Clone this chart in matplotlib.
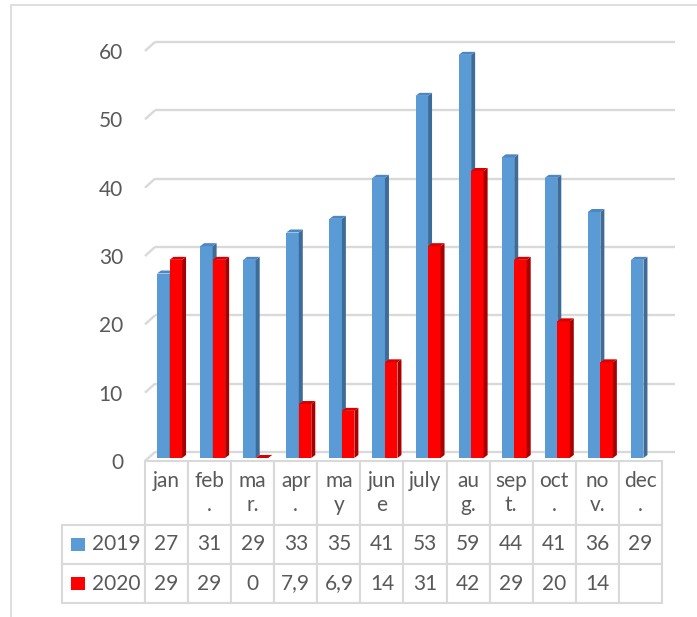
import numpy as np
import matplotlib.pyplot as plt
from matplotlib.patches import Polygon, Rectangle
from matplotlib.table import Table
from matplotlib.transforms import ScaledTranslation

plt.rcParams['font.family'] = ['Lato', 'DejaVu Sans']

# data
month_labels = ["jan", "feb\n.", "ma\nr.", "apr\n.", "ma\ny", "jun\ne",
                "july", "au\ng.", "sep\nt.", "oct\n.", "no\nv.", "dec\n."]
series_names = ["2019", "2020"]
values_2019 = [27, 31, 29, 33, 35, 41, 53, 59, 44, 41, 36, 29]
values_2020 = [29, 29, 0, 7.9, 6.9, 14, 31, 42, 29, 20, 14, None]
y_ticks = [0, 10, 20, 30, 40, 50, 60]

# styling
W, H = 697, 617
TXT = '#595959'
GRID = '#d9d9d9'
FS = 15
colors = {
    "2019": ('#5b9bd5', '#3e6c99', '#4d88c4'),   # front, side, top
    "2020": ('#ff0000', '#a80000', '#d80000'),
}

fig = plt.figure(figsize=(W / 100, H / 100), dpi=100)

# outer chart frame (right/bottom edges are cut off in the reference)
fig.add_artist(Rectangle((11 / W, -0.1), 1.2, 1 - 5 / H + 0.1,
                         transform=fig.transFigure, fill=False,
                         ec=GRID, lw=1.2))

# plot area = plane in which the bar fronts sit
PL, PR, PT, PB = 148, 665, 48, 458
ax = fig.add_axes([PL / W, 1 - PB / H, (PR - PL) / W, (PB - PT) / H])
n = len(values_2019)
ax.set_xlim(0, n)
ax.set_ylim(0, 60)
ax.patch.set_visible(False)
for s in ax.spines.values():
    s.set_visible(False)
ax.set_xticks([])
ax.set_yticks(y_ticks)
ax.tick_params(axis='y', length=0, pad=18, labelsize=FS, labelcolor=TXT)
for lab in ax.get_yticklabels():
    lab.set_transform(lab.get_transform() +
                      ScaledTranslation(0, -0.03, fig.dpi_scale_trans))

px_x = (PR - PL) / n
px_y = (PB - PT) / 60.0

# back-wall gridlines with the little 3D diagonals on the left
back = ax.transData + ScaledTranslation(0.07, 0.06, fig.dpi_scale_trans)
ax.hlines(y_ticks, 0, n + 3 / px_x, colors=GRID, lw=1.7, transform=back,
          zorder=1, clip_on=False)
for v in y_ticks:
    ax.plot([-3 / px_x, 7 / px_x], [v - 3 / px_y, v + 6 / px_y],
            color=GRID, lw=1.7, zorder=1, clip_on=False,
            solid_capstyle='butt')

# 3D-looking clustered columns
x = np.arange(n) + 0.5
bw = 0.29
ddx = 4 / px_x
ddy = 3 / px_y
for k, (name, vals) in enumerate(zip(series_names, [values_2019, values_2020])):
    front, side, top = colors[name]
    lefts = x - bw + k * bw
    ok = [i for i, v in enumerate(vals) if v is not None]
    hs = np.array([vals[i] for i in ok], dtype=float)
    ls = lefts[ok]
    z = 3 + k
    ax.bar(ls, hs, width=bw, align='edge', color=front, lw=0, zorder=z,
           clip_on=False)
    for l, h in zip(ls, hs):
        r = l + bw
        ax.add_patch(Polygon([(r, 0), (r + ddx, ddy), (r + ddx, h + ddy), (r, h)],
                             closed=True, fc=side, lw=0, zorder=z, clip_on=False))
        ax.add_patch(Polygon([(l, h), (l + ddx, h + ddy), (r + ddx, h + ddy), (r, h)],
                             closed=True, fc=top, lw=0, zorder=z, clip_on=False))

# data table under the chart
TL, TR, TT, TB = 62, 662, 461, 603
TW, TH = TR - TL, TB - TT
LEG_W = 83
HEAD_H, ROW_H = 64, 39
ax_t = fig.add_axes([TL / W, 1 - TB / H, TW / W, TH / H])
ax_t.axis('off')
col_w = (TW - LEG_W) / n
# sizes are given in axes fractions already, bbox = the month grid
tab = Table(ax_t, bbox=[LEG_W / TW, 0, 1 - LEG_W / TW, 1])


def fmt(v):
    if v is None:
        return ""
    return f"{v:g}".replace('.', ',')


for j, lab in enumerate(month_labels):
    txt = lab if "\n" in lab else lab + "\n "
    c = tab.add_cell(0, j, width=col_w / TW, height=HEAD_H / TH, text=txt,
                     loc='center')
    c.get_text().set_linespacing(1.25)
for i, (name, vals) in enumerate(zip(series_names, [values_2019, values_2020])):
    c = tab.add_cell(i + 1, -1, width=LEG_W / TW, height=ROW_H / TH,
                     text=name, loc='right')
    c.PAD = 0.05
    for j, v in enumerate(vals):
        tab.add_cell(i + 1, j, width=col_w / TW, height=ROW_H / TH,
                     text=fmt(v), loc='center')
tab.auto_set_font_size(False)
tab.set_fontsize(FS)
for cell in tab.get_celld().values():
    cell.set_edgecolor(GRID)
    cell.set_linewidth(1.5)
    cell.get_text().set_color(TXT)
ax_t.add_table(tab)

# legend keys in the row-label cells
for i, name in enumerate(series_names):
    cy = TT + HEAD_H + ROW_H * i + ROW_H / 2
    fig.add_artist(Rectangle((71 / W, 1 - (cy + 6.5) / H), 14 / W, 13 / H,
                             transform=fig.transFigure, fc=colors[name][0],
                             lw=0))

fig.savefig('out.png', dpi=100, facecolor='white')
